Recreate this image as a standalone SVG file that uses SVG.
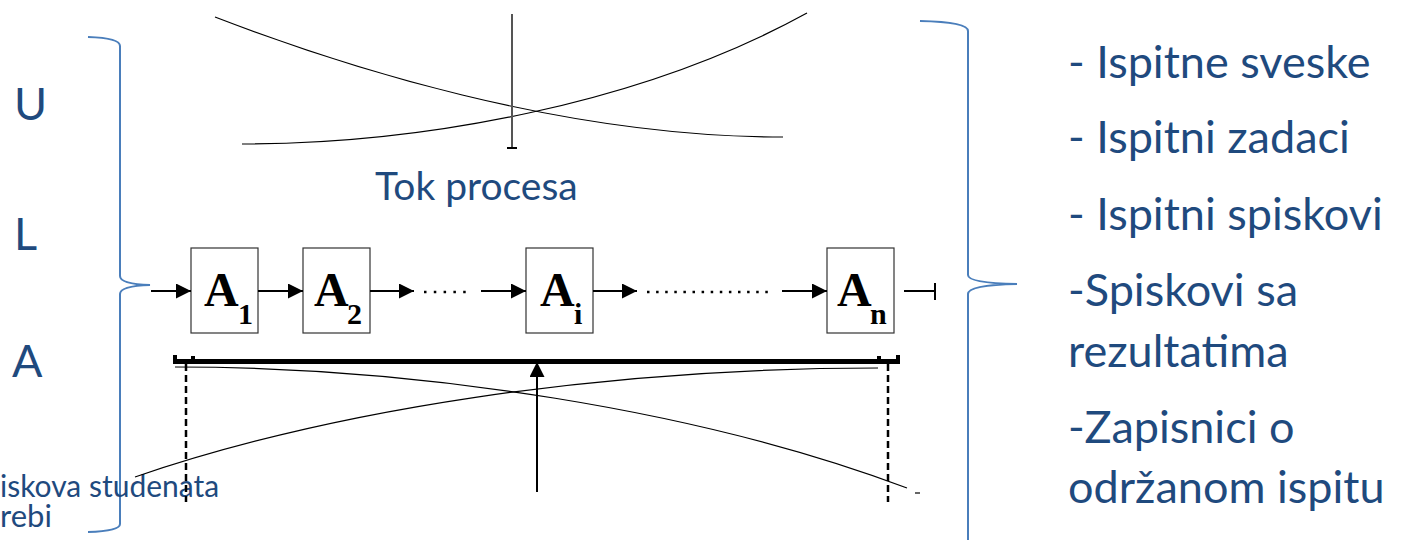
<svg xmlns="http://www.w3.org/2000/svg" width="1403" height="540" viewBox="0 0 1403 540">
<style>
.t{font-family:Lato,"Open Sans","Liberation Sans",sans-serif;fill:#1f4a7e}
.br{fill:none;stroke:#4a7ebb;stroke-width:2}
.box{fill:#fff;stroke:#333;stroke-width:1.2}
.lbl{font-family:"Liberation Serif","Times New Roman",serif;font-weight:bold;fill:#000}
.cv{fill:none;stroke:#000;stroke-width:1.2}
.ar{stroke:#000;stroke-width:2;fill:none}
.dot{stroke:#000;stroke-width:2.5;fill:none}
.dash{stroke:#000;stroke-width:2.5;stroke-dasharray:7 4;fill:none}
</style>
<defs>
<marker id="ah" viewBox="0 0 10 10" refX="10" refY="5" markerUnits="userSpaceOnUse" markerWidth="15" markerHeight="15" orient="auto">
<path d="M0,0 L10,5 L0,10 z" fill="#000"/>
</marker>
</defs>
<rect width="1403" height="540" fill="#fff"/>

<g id="left-brace">
<path class="br" d="M88,37 Q120,38 120,46 L120,276 Q120,284 150,285 Q120,286 120,294 L120,524 Q120,531 88,532"/>
<text class="t" x="14" y="120" font-size="45">U</text>
<text class="t" x="14" y="250" font-size="45">L</text>
<text class="t" x="12" y="377" font-size="45">A</text>
<text class="t" x="0" y="497" font-size="30">iskova studenata</text>
<text class="t" x="0" y="527" font-size="31">rebi</text>
</g>

<g id="right-brace">
<path class="br" d="M920,21 Q968,22 968,31 L968,275 Q968,283 1017,284 Q968,285 968,294 L968,545"/>
<text class="t" x="1068" y="78" font-size="45">- Ispitne sveske</text>
<text class="t" x="1068" y="153" font-size="45">- Ispitni zadaci</text>
<text class="t" x="1068" y="230" font-size="45">- Ispitni spiskovi</text>
<text class="t" x="1068" y="306" font-size="45">-Spiskovi sa</text>
<text class="t" x="1068" y="367" font-size="45">rezultatima</text>
<text class="t" x="1068" y="443" font-size="45">-Zapisnici o</text>
<text class="t" x="1068" y="503" font-size="45">održanom ispitu</text>
</g>

<g id="top-figure">
<path class="cv" d="M215,17 C340,65 560,137 783,137"/>
<path class="cv" d="M242,144 C420,144 640,105 807,13"/>
<line x1="512" y1="14" x2="512" y2="148" stroke="#555" stroke-width="2"/>
<line x1="507" y1="148" x2="517" y2="148" stroke="#000" stroke-width="2"/>
</g>

<g id="flow-label">
<text class="t" x="375" y="200" font-size="39">Tok procesa</text>
</g>

<g id="A1">
<rect class="box" x="191" y="248" width="67" height="85"/>
<text class="lbl" x="204" y="306" font-size="48">A</text>
<text class="lbl" x="238" y="324" font-size="30">1</text>
</g>
<g id="A2">
<rect class="box" x="303" y="248" width="67" height="85"/>
<text class="lbl" x="314" y="306" font-size="48">A</text>
<text class="lbl" x="347" y="324" font-size="30">2</text>
</g>
<g id="Ai">
<rect class="box" x="526" y="248" width="67" height="85"/>
<text class="lbl" x="540" y="306" font-size="48">A</text>
<text class="lbl" x="574" y="324" font-size="30">i</text>
</g>
<g id="An">
<rect class="box" x="827" y="248" width="67" height="85"/>
<text class="lbl" x="837" y="306" font-size="48">A</text>
<text class="lbl" x="870" y="324" font-size="30">n</text>
</g>

<g id="resource-figure">
<rect x="173" y="359" width="727" height="5" fill="#000"/>
<rect x="173" y="355" width="4" height="8" fill="#000"/>
<rect x="191" y="356" width="4" height="6" fill="#000"/>
<rect x="877" y="356" width="4" height="6" fill="#000"/>
<rect x="896" y="355" width="4" height="8" fill="#000"/>
<line class="dash" x1="186" y1="364" x2="186" y2="502"/>
<line class="dash" x1="888" y1="364" x2="888" y2="502"/>
<path class="cv" d="M175,367 C420,367 700,410 907,488"/>
<path class="cv" d="M135,477 C330,410 600,368 878,368"/>
<line x1="915" y1="493" x2="920" y2="493" stroke="#000" stroke-width="1.2"/>
</g>

<g id="connectors">
<line class="ar" x1="151" y1="291" x2="191" y2="291" marker-end="url(#ah)"/>
<line class="ar" x1="258" y1="291" x2="303" y2="291" marker-end="url(#ah)"/>
<line class="ar" x1="370" y1="291" x2="414" y2="291" marker-end="url(#ah)"/>
<line class="dot" x1="424" y1="292" x2="466" y2="292" stroke-dasharray="2.5 7.3"/>
<line class="ar" x1="481" y1="291" x2="526" y2="291" marker-end="url(#ah)"/>
<line class="ar" x1="593" y1="291" x2="637" y2="291" marker-end="url(#ah)"/>
<line class="dot" x1="647" y1="292" x2="768" y2="292" stroke-dasharray="2.5 6.6"/>
<line class="ar" x1="782" y1="291" x2="827" y2="291" marker-end="url(#ah)"/>
<line class="ar" x1="904" y1="291" x2="935" y2="291"/>
<line x1="935" y1="283" x2="935" y2="300" stroke="#000" stroke-width="2"/>
<line class="ar" x1="537" y1="492" x2="537" y2="362" marker-end="url(#ah)"/>
</g>
</svg>
